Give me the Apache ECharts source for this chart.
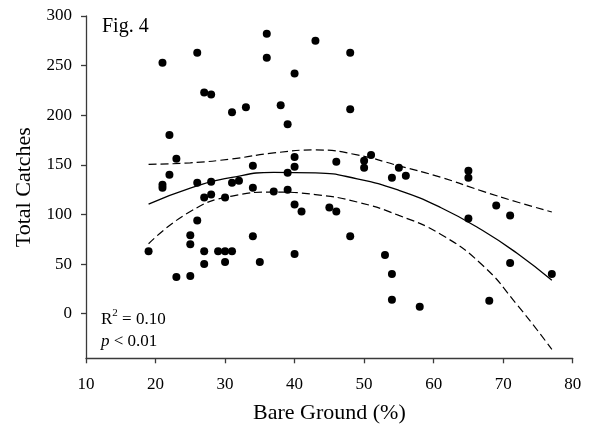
<!DOCTYPE html>
<html>
<head>
<meta charset="utf-8">
<script src="https://cdn.jsdelivr.net/npm/echarts@6/dist/echarts.min.js"></script>
<style>html,body{margin:0;padding:0;background:#fff}#c{width:590px;height:426px}</style>
</head>
<body>
<div id="c"></div>
<script>
const bareGround = [19,21,21,21,22,22,23,23,25,25,25,26,26,26,27,27,27,27,28,28,28,29,30,30,30,31,31,31,32,33,34,34,34,35,36,36,37,38,39,39,39,40,40,40,40,40,41,43,45,46,46,48,48,48,50,50,51,53,54,54,54,55,56,58,65,65,65,68,69,71,71,77];
const totalCatches = [63,253,130,127,180,140,156,37,79,70,38,263,132,94,223,117,63,50,221,133,120,63,117,63,52,203,132,63,134,208,149,127,78,52,282,258,123,210,191,142,125,242,158,148,110,60,103,275,107,153,103,263,206,78,154,147,160,59,137,40,14,147,139,7,144,137,96,13,109,99,51,40];
const curveX = [19,25,31,37,43,49,55,61,67,72,77];
const fitY = [110.3,126.6,137.3,142.4,141.9,135.9,124.3,107,84.1,60.8,33.6];
const upperY = [150.5,152,156,162,165,160,149,137.5,123.5,112.5,102.5];
const lowerY = [70.5,103,118.5,122.5,120,112.5,99,80,49,9,-36];
const yTicks = [0,50,100,150,200,250,300];

const pair = (xs, ys) => xs.map((x, i) => [x, ys[i]]);
const FONT = '"Liberation Serif", "Times New Roman", serif';
const axisColor = '#3a3a3a';

const chart = echarts.init(document.getElementById('c'));
chart.setOption({
  animation: false,
  backgroundColor: '#fff',
  grid: { left: 86, right: 17.3, top: 16, bottom: 67.7, containLabel: false, outerBoundsMode: 'none' },
  xAxis: {
    type: 'value', min: 10, max: 80, interval: 10,
    name: 'Bare Ground (%)', nameLocation: 'middle', nameGap: 44,
    nameTextStyle: { fontFamily: FONT, fontSize: 22, color: '#000' },
    axisLine: { show: true, onZero: false, lineStyle: { color: axisColor, width: 1.3 } },
    axisTick: { show: true, length: 5, inside: false, lineStyle: { color: axisColor, width: 1.3 } },
    axisLabel: { fontFamily: FONT, fontSize: 17, color: '#000', margin: 18 },
    splitLine: { show: false }
  },
  yAxis: {
    type: 'value', min: -45, max: 300,
    name: 'Total Catches', nameLocation: 'middle', nameGap: 48, nameRotate: 90,
    nameTextStyle: { fontFamily: FONT, fontSize: 22, color: '#000' },
    axisLine: { show: true, onZero: false, lineStyle: { color: axisColor, width: 1.3 } },
    axisTick: { show: true, length: 5, inside: false, customValues: yTicks, lineStyle: { color: axisColor, width: 1.3 } },
    axisLabel: { fontFamily: FONT, fontSize: 17, color: '#000', margin: 14, customValues: yTicks },
    splitLine: { show: false }
  },
  series: [
    {
      type: 'line', data: pair(curveX, upperY), smooth: 0.5, symbol: 'none',
      lineStyle: { color: '#000', width: 1.2, type: [8, 4] }, silent: true
    },
    {
      type: 'line', data: pair(curveX, fitY), smooth: 0.5, symbol: 'none',
      lineStyle: { color: '#000', width: 1.3 }, silent: true
    },
    {
      type: 'line', data: pair(curveX, lowerY), smooth: 0.5, symbol: 'none',
      lineStyle: { color: '#000', width: 1.2, type: [8, 4] }, silent: true
    },
    {
      type: 'scatter', data: pair(bareGround, totalCatches), symbol: 'circle', symbolSize: 8,
      itemStyle: { color: '#000', opacity: 1 }
    }
  ],
  graphic: [
    { type: 'text', left: 102, top: 17, style: { text: 'Fig. 4', fontFamily: FONT, fontSize: 20, fill: '#000' } },
    { type: 'text', left: 101, top: 308, style: {
        text: '{a|R}{s|2}{a| = 0.10}', fill: '#000',
        rich: { a: { fontFamily: FONT, fontSize: 17, verticalAlign: 'bottom', lineHeight: 20 }, s: { fontFamily: FONT, fontSize: 11, verticalAlign: 'top', lineHeight: 20 } } } },
    { type: 'text', left: 101, top: 333, style: {
        text: '{i|p}{a| < 0.01}', fill: '#000',
        rich: { a: { fontFamily: FONT, fontSize: 17 }, i: { fontFamily: FONT, fontSize: 17, fontStyle: 'italic' } } } }
  ]
});
</script>
</body>
</html>
